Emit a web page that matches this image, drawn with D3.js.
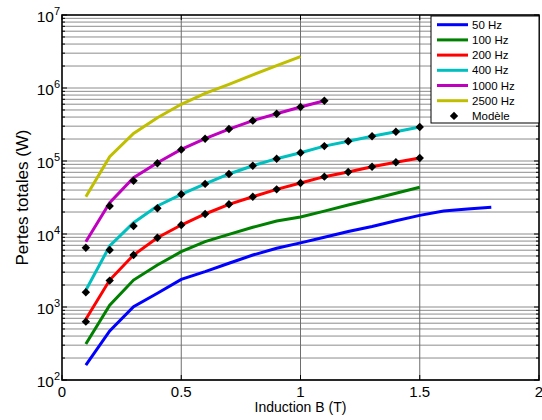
<!DOCTYPE html>
<html>
<head>
<meta charset="utf-8">
<script src="https://cdn.jsdelivr.net/npm/d3@7/dist/d3.min.js"></script>
<style>
body { margin: 0; background: #fff; }
svg { font-family: "Liberation Sans", Arial, sans-serif; }
</style>
</head>
<body>
<svg id="canvas" width="542" height="420"></svg>
<script>
// measured curves (B in T, losses in W)
let b50 = [0.1,0.2,0.3,0.4,0.5,0.6,0.7,0.8,0.9,1.0,1.1,1.2,1.3,1.4,1.5,1.6,1.7,1.8]
let p50 = [160,469,1009,1540,2390,3050,3970,5150,6370,7550,9040,10800,12700,15200,18000,20600,22000,23200]

let b100 = [0.1,0.2,0.3,0.4,0.5,0.6,0.7,0.8,0.9,1.0,1.1,1.2,1.3,1.4,1.5]
let p100 = [311,1060,2340,3760,5720,7850,9890,12350,15100,17100,20600,24900,30000,36200,43600]

let b200 = [0.1,0.2,0.3,0.4,0.5,0.6,0.7,0.8,0.9,1.0,1.1,1.2,1.3,1.4,1.5]
let p200 = [680,2340,5150,8890,13270,18800,25500,32400,40900,50000,61000,70600,83600,96000,110000]

let b400 = [0.1,0.2,0.3,0.4,0.5,0.6,0.7,0.8,0.9,1.0,1.1,1.2,1.3,1.4,1.5]
let p400 = [1700,6850,14300,24200,35000,48600,66400,86000,107600,130000,160000,186000,218000,252000,292000]

let b1000 = [0.1,0.2,0.3,0.4,0.5,0.6,0.7,0.8,0.9,1.0,1.1]
let p1000 = [7850,26900,59000,94800,144000,202000,274000,357000,444000,549000,670000]

let b2500 = [0.1,0.2,0.3,0.4,0.5,0.6,0.7,0.8,0.9,1.0]
let p2500 = [32400,114600,239000,392000,598000,846000,1120000,1510000,2030000,2690000]

// model points
let m200 = [630,2300,5150,8900,13300,18800,25500,32400,40900,50000,61000,70600,83600,96000,110000]
let m400 = [1590,6040,12880,22500,35000,48600,66400,86000,107600,130000,160000,186000,218000,252000,292000]
let m1000 = [6490,24200,53700,93000,143000,202000,274000,357000,444000,549000,670000]

let legendNames = ['50 Hz','100 Hz','200 Hz','400 Hz','1000 Hz','2500 Hz']
let colors = ['#0000ff','#008000','#ff0000','#00bfbf','#bf00bf','#bfbf00']
let xTicks = [0,0.5,1,1.5,2]
let xTickLabels = ['0','0.5','1','1.5','2']
let yExps = [2,3,4,5,6,7]

let canvas = d3.select('#canvas')

let margin = {top: 15, left: 62, right: 3, bottom: 40}
let width = 542 - margin.left - margin.right
let height = 420 - margin.top - margin.bottom

let x = d3.scaleLinear().domain([0, 2]).range([margin.left, margin.left + width])
let y = d3.scaleLog().domain([100, 1e7]).range([margin.top + height, margin.top])

// grid
let grid = canvas.append('g')
let minors = []
for (let e = 2; e < 7; e++) {
    for (let k = 1; k < 10; k++) minors.push(k * Math.pow(10, e))
}
grid.selectAll('line.h')
    .data(minors)
    .enter()
    .append('line')
    .attr('x1', x(0)).attr('x2', x(2))
    .attr('y1', d => y(d)).attr('y2', d => y(d))
    .attr('stroke', '#8c8c8c')
    .attr('stroke-width', 1)

grid.selectAll('line.v')
    .data([0.5, 1, 1.5])
    .enter()
    .append('line')
    .attr('x1', d => x(d)).attr('x2', d => x(d))
    .attr('y1', y(1e7)).attr('y2', y(100))
    .attr('stroke', '#6e6e6e')
    .attr('stroke-width', 1)

// ticks (inside, both sides)
let ticks = canvas.append('g').attr('stroke', '#000').attr('stroke-width', 1)
minors.concat([1e7]).forEach(function (v) {
    let len = (Math.log10(v) % 1 === 0) ? 5 : 3
    ticks.append('line').attr('x1', x(0)).attr('x2', x(0) + len).attr('y1', y(v)).attr('y2', y(v))
    ticks.append('line').attr('x1', x(2)).attr('x2', x(2) - len).attr('y1', y(v)).attr('y2', y(v))
})
xTicks.forEach(function (v) {
    ticks.append('line').attr('x1', x(v)).attr('x2', x(v)).attr('y1', y(100)).attr('y2', y(100) - 5)
    ticks.append('line').attr('x1', x(v)).attr('x2', x(v)).attr('y1', y(1e7)).attr('y2', y(1e7) + 5)
})

// curves
let line = d3.line()
    .x(d => x(d[0]))
    .y(d => y(d[1]))

let series = [
    [b50, p50], [b100, p100], [b200, p200], [b400, p400], [b1000, p1000], [b2500, p2500]
]
series.forEach(function (s, i) {
    canvas.append('path')
        .datum(d3.zip(s[0], s[1]))
        .attr('d', line)
        .attr('fill', 'none')
        .attr('stroke', colors[i])
        .attr('stroke-width', 3)
})

// model markers
let diamond = d3.symbol().type(d3.symbolDiamond2).size(45)
let models = [[b200, m200], [b400, m400], [b1000, m1000]]
models.forEach(function (m) {
    canvas.selectAll(null)
        .data(d3.zip(m[0], m[1]))
        .enter()
        .append('path')
        .attr('d', diamond)
        .attr('transform', d => 'translate(' + x(d[0]) + ',' + y(d[1]) + ')')
        .attr('fill', '#000')
})

// box
canvas.append('rect')
    .attr('x', x(0)).attr('y', y(1e7))
    .attr('width', width).attr('height', height)
    .attr('fill', 'none')
    .attr('stroke', '#000')
    .attr('stroke-width', 1.6)

// tick labels
canvas.selectAll('text.xt')
    .data(xTicks)
    .enter()
    .append('text')
    .attr('x', d => x(d))
    .attr('y', 397)
    .attr('text-anchor', 'middle')
    .attr('font-size', 15)
    .text((d, i) => xTickLabels[i])

yExps.forEach(function (e) {
    let t = canvas.append('text')
        .attr('x', 60)
        .attr('y', y(Math.pow(10, e)) + 7)
        .attr('text-anchor', 'end')
        .attr('font-size', 15.5)
    t.append('tspan').text('10')
    t.append('tspan').attr('font-size', 11).attr('dy', -7).text(e)
})

// axis labels
canvas.append('text')
    .attr('x', x(1))
    .attr('y', 412)
    .attr('text-anchor', 'middle')
    .attr('font-size', 14)
    .text('Induction B (T)')

canvas.append('text')
    .attr('transform', 'translate(28,' + (margin.top + height / 2) + ') rotate(-90)')
    .attr('text-anchor', 'middle')
    .attr('font-size', 17)
    .text('Pertes totales (W)')

// legend
let lg = canvas.append('g')
lg.append('rect')
    .attr('x', 431).attr('y', 16)
    .attr('width', 108).attr('height', 107)
    .attr('fill', '#fff')
    .attr('stroke', '#000')
    .attr('stroke-width', 1)

legendNames.forEach(function (name, i) {
    let ly = 24.7 + i * 15.2
    lg.append('line')
        .attr('x1', 437).attr('x2', 468)
        .attr('y1', ly).attr('y2', ly)
        .attr('stroke', colors[i])
        .attr('stroke-width', 3)
    lg.append('text')
        .attr('x', 472).attr('y', ly + 4)
        .attr('font-size', 11.5)
        .text(name)
})
let my = 24.7 + 6 * 15.2
lg.append('path')
    .attr('d', diamond)
    .attr('transform', 'translate(454,' + my + ')')
    .attr('fill', '#000')
lg.append('text')
    .attr('x', 472).attr('y', my + 4)
    .attr('font-size', 11.5)
    .text('Modèle')
</script>
</body>
</html>
